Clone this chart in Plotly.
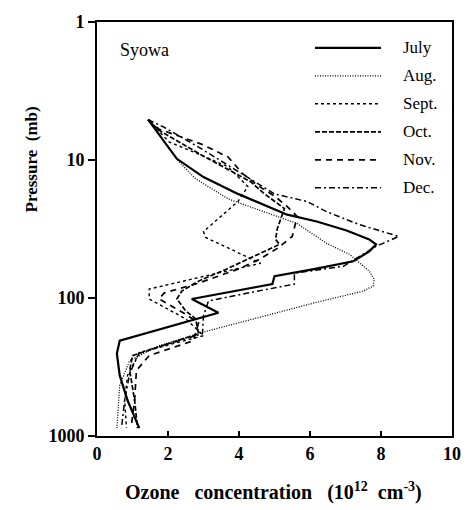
import plotly.graph_objects as go

# ---------------- data (ozone conc. 1e12 cm^-3 vs pressure mb) ----------------
july_x = [1.44, 1.89, 2.25, 3.0, 3.97, 5.36, 6.19, 7.03, 7.67, 7.86, 7.67, 7.22, 6.11, 5.0, 4.94, 2.67, 3.42, 0.64, 0.56, 0.64, 0.86, 1.19]
july_p = [5.1, 7.4, 9.8, 13.3, 17.6, 24.9, 27.9, 32.4, 37.6, 40.9, 45.9, 54.2, 61.8, 69.5, 79.3, 101.7, 128, 204, 253, 364, 551, 876]

aug_x = [1.44, 1.69, 1.89, 2.31, 2.78, 3.69, 4.06, 5.64, 6.47, 7.11, 7.67, 7.81, 7.78, 7.5, 6.11, 4.25, 3.14, 1.75, 0.92, 0.64, 0.56]
aug_p = [5.1, 6.1, 7.4, 10.3, 13.7, 19.1, 20.7, 28.9, 40.2, 48.2, 63.9, 73.0, 82.0, 89.1, 108.7, 146.3, 172.7, 221.5, 284, 430, 876]

sept_x = [1.44, 2.03, 2.86, 3.69, 4.25, 3.97, 3.0, 3.06, 4.61, 3.42, 1.47, 1.47, 2.5, 3.0, 1.19, 0.86, 0.78, 0.83]
sept_p = [5.1, 7.4, 9.05, 11.2, 15.6, 20.0, 33.0, 36.4, 56.0, 66.1, 86.1, 101.7, 141.6, 187.6, 248.9, 364, 551, 876]

oct_x = [1.44, 1.75, 2.94, 4.33, 4.72, 5.28, 5.08, 5.03, 5.14, 4.25, 3.64, 2.86, 2.39, 2.25, 2.5, 2.78, 2.86, 1.0, 0.92, 1.06, 1.14]
oct_p = [5.1, 6.1, 9.2, 14.4, 17.6, 22.5, 31.4, 37.6, 40.9, 52.4, 61.8, 75.5, 89.1, 101.7, 124.1, 141.6, 181.4, 261.4, 335, 551, 876]

nov_x = [1.44, 1.75, 2.94, 3.69, 4.11, 4.58, 5.03, 5.36, 5.64, 5.5, 5.08, 4.58, 3.97, 2.86, 1.89, 1.75, 2.44, 2.86, 2.72, 1.47, 1.11, 1.06, 0.97]
nov_p = [5.1, 5.98, 7.67, 9.51, 12.6, 15.6, 18.5, 21.8, 25.7, 35.8, 43.7, 52.4, 61.8, 78.0, 92.0, 101.7, 128.3, 151.3, 203.9, 261.4, 335, 551, 833]

dec_x = [1.44, 1.89, 2.86, 4.61, 5.0, 5.92, 6.47, 7.39, 8.5, 7.86, 6.94, 5.56, 5.56, 4.25, 3.14, 3.0, 2.97, 1.19, 0.92, 0.78, 0.69]
dec_p = [5.1, 5.79, 8.06, 15.1, 17.6, 20.0, 23.7, 29.4, 35.8, 42.3, 58.9, 66.1, 79.3, 92.0, 105.1, 134.7, 181.4, 248.9, 352, 551, 876]

month_labels = ["July", "Aug.", "Sept.", "Oct.", "Nov.", "Dec."]
x_ticks = [0, 2, 4, 6, 8, 10]
y_ticks = [1, 10, 100, 1000]

# ---------------- styles ----------------
styles = [
    dict(width=2.2, dash="solid"),
    dict(width=1.3, dash="1px,1.5px"),
    dict(width=1.4, dash="3px,3px"),
    dict(width=1.7, dash="5px,2px"),
    dict(width=1.7, dash="6px,5px"),
    dict(width=1.5, dash="6px,3px,2px,3px"),
]
series = [(july_x, july_p), (aug_x, aug_p), (sept_x, sept_p),
          (oct_x, oct_p), (nov_x, nov_p), (dec_x, dec_p)]

SERIF = "Liberation Serif"

fig = go.Figure()
for (xs, ps), name, st in zip(series, month_labels, styles):
    fig.add_trace(go.Scatter(
        x=xs, y=ps, mode="lines", name=name, showlegend=False,
        line=dict(color="black", width=st["width"], dash=st["dash"]),
    ))

# manual legend (line samples + labels)
leg_top = 0.9376
leg_step = 0.0676
for i, (name, st) in enumerate(zip(month_labels, styles)):
    yy = leg_top - i * leg_step
    fig.add_shape(type="line", xref="paper", yref="paper",
                  x0=0.614, x1=0.80, y0=yy, y1=yy,
                  line=dict(color="black", width=st["width"], dash=st["dash"]))
    fig.add_annotation(xref="paper", yref="paper", x=0.856, y=yy,
                       text=name, showarrow=False, xanchor="left", yanchor="middle",
                       font=dict(family=SERIF, size=17, color="black"))

fig.add_annotation(xref="paper", yref="paper", x=0.058, y=0.933,
                   text="Syowa", showarrow=False,
                   xanchor="left", yanchor="middle",
                   font=dict(family=SERIF, size=18, color="black"))

# axis titles
fig.add_annotation(xref="paper", yref="paper", x=-0.186, y=0.668,
                   text="<b>Pressure\u00a0\u00a0(mb)</b>", showarrow=False, textangle=-90,
                   xanchor="center", yanchor="middle",
                   font=dict(family=SERIF, size=17, color="black"))
fig.add_annotation(xref="paper", yref="paper", x=0.497, y=-0.134,
                   text="<b>Ozone\u00a0\u00a0\u00a0concentration\u00a0\u00a0\u00a0(10<sup>12</sup>\u00a0\u00a0cm<sup>-3</sup>)</b>",
                   showarrow=False, xanchor="center", yanchor="middle",
                   font=dict(family=SERIF, size=20, color="black"))

fig.update_xaxes(
    range=[0, 10], tickvals=x_ticks, ticktext=[str(v) for v in x_ticks],
    ticks="inside", ticklen=5, tickwidth=1.5, tickcolor="black",
    showline=True, linewidth=2, linecolor="black", mirror=True,
    showgrid=False, zeroline=False,
    tickfont=dict(family=SERIF, size=18, color="black", weight="bold"),
)
fig.update_yaxes(
    type="log", range=[3, 0], tickvals=y_ticks, ticktext=[str(v) for v in y_ticks],
    ticks="outside", ticklen=7, tickwidth=1.5, tickcolor="black",
    showline=True, linewidth=2, linecolor="black", mirror=True,
    showgrid=False, zeroline=False,
    tickfont=dict(family=SERIF, size=18, color="black", weight="bold"),
)

fig.update_layout(
    width=473, height=510,
    margin=dict(l=97, r=16, t=19, b=74),
    paper_bgcolor="white", plot_bgcolor="white",
    showlegend=False,
)

fig.write_html("out.html")
